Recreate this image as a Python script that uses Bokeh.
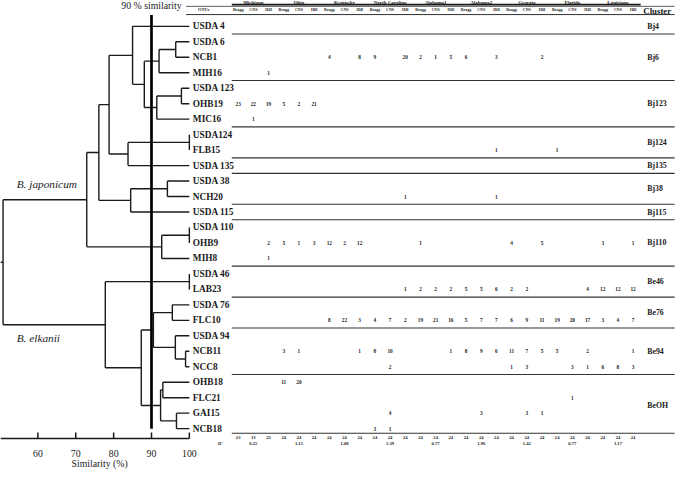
from bokeh.plotting import figure
from bokeh.models import Range1d, ColumnDataSource
from bokeh.core.properties import value
from bokeh.embed import file_html
from bokeh.resources import INLINE

_ = None
SERIF = value("Liberation Serif")

# ---------------- data ----------------
otus = ["USDA 4", "USDA 6", "NCB1", "MIH16", "USDA 123", "OHB19", "MIC16",
        "USDA124", "FLB15", "USDA 135", "USDA 38", "NCH20", "USDA 115",
        "USDA 110", "OHB9", "MIH8", "USDA 46", "LAB23", "USDA 76", "FLC10",
        "USDA 94", "NCB11", "NCC8", "OHB18", "FLC21", "GAI15", "NCB18"]

# (left child, right child, similarity %) ; ints refer to earlier merges
merges = [
    ("USDA 6", "NCB1", 96.4),      # 0
    (0, "MIH16", 92.0),            # 1
    ("USDA 123", "OHB19", 97.9),   # 2
    (2, "MIC16", 91.4),            # 3
    (1, 3, 88.1),                  # 4
    ("USDA 4", 4, 85.0),           # 5
    ("USDA124", "FLB15", 100.0),   # 6
    (6, "USDA 135", 83.8),         # 7
    (5, 7, 78.8),                  # 8
    ("USDA 38", "NCH20", 94.2),    # 9
    (9, "USDA 115", 84.5),         # 10
    (8, 10, 76.1),                 # 11
    ("USDA 110", "OHB9", 100.0),   # 12
    (12, "MIH8", 92.7),            # 13
    (11, 13, 72.9),                # 14
    ("USDA 46", "LAB23", 100.0),   # 15
    ("USDA 76", "FLC10", 95.5),    # 16
    ("NCB11", "NCC8", 99.0),       # 17
    ("USDA 94", 17, 96.3),         # 18
    (16, 18, 90.5),                # 19
    ("OHB18", "FLC21", 93.0),      # 20
    ("GAI15", "NCB18", 96.6),      # 21
    (20, 21, 92.4),                # 22
    (19, 22, 87.3),                # 23
    (15, 23, 77.8),                # 24
    (14, 24, 50.8),                # 25
]

sim_ticks = [60, 70, 80, 90, 100]
cut_level = 90

states = ["Michigan", "Ohio", "Kentucky", "North Carolina", "Alabama1",
          "Alabama2", "Georgia", "Florida", "Louisiana"]
cultivars = ["Bragg", "CNS", "Hill"]

NCB1  = [_, _, _,   _, _, _,    4, _, 8,    9, _, 20,   2, 1, 5,    6, _, 3,    _, _, 2,    _, _, _,    _, _, _]
MIH16 = [_, _, 1,   _, _, _,    _, _, _,    _, _, _,    _, _, _,    _, _, _,    _, _, _,    _, _, _,    _, _, _]
OHB19 = [23, 22, 19, 5, 2, 21,  _, _, _,    _, _, _,    _, _, _,    _, _, _,    _, _, _,    _, _, _,    _, _, _]
MIC16 = [_, 1, _,   _, _, _,    _, _, _,    _, _, _,    _, _, _,    _, _, _,    _, _, _,    _, _, _,    _, _, _]
FLB15 = [_, _, _,   _, _, _,    _, _, _,    _, _, _,    _, _, _,    _, _, 1,    _, _, _,    1, _, _,    _, _, _]
NCH20 = [_, _, _,   _, _, _,    _, _, _,    _, _, 1,    _, _, _,    _, _, 1,    _, _, _,    _, _, _,    _, _, _]
OHB9  = [_, _, 2,   5, 1, 3,    12, 2, 12,  _, _, _,    1, _, _,    _, _, _,    4, _, 5,    _, _, _,    3, _, 1]
MIH8  = [_, _, 1,   _, _, _,    _, _, _,    _, _, _,    _, _, _,    _, _, _,    _, _, _,    _, _, _,    _, _, _]
LAB23 = [_, _, _,   _, _, _,    _, _, _,    _, _, 1,    2, 2, 2,    5, 5, 6,    2, 2, _,    _, _, 4,    12, 12, 12]
FLC10 = [_, _, _,   _, _, _,    8, 22, 3,   4, 7, 2,    19, 21, 16, 5, 7, 7,    6, 9, 11,   19, 20, 17, 3, 4, 7]
NCB11 = [_, _, _,   3, 1, _,    _, _, 1,    8, 10, _,   _, _, 1,    8, 9, 6,    11, 7, 5,   5, _, 2,    _, _, 1]
NCC8  = [_, _, _,   _, _, _,    _, _, _,    _, 2, _,    _, _, _,    _, _, _,    1, 3, _,    _, 3, 1,    6, 8, 3]
OHB18 = [_, _, _,   11, 20, _,  _, _, _,    _, _, _,    _, _, _,    _, _, _,    _, _, _,    _, _, _,    _, _, _]
FLC21 = [_, _, _,   _, _, _,    _, _, _,    _, _, _,    _, _, _,    _, _, _,    _, _, _,    _, 1, _,    _, _, _]
GAI15 = [_, _, _,   _, _, _,    _, _, _,    _, 4, _,    _, _, _,    _, 3, _,    _, 3, 1,    _, _, _,    _, _, _]
NCB18 = [_, _, _,   _, _, _,    _, _, _,    3, 1, _,    _, _, _,    _, _, _,    _, _, _,    _, _, _,    _, _, _]

isolates = [23, 13, 23, 24, 24, 24, 24, 24, 24, 24, 24, 24, 24, 24, 24,
            24, 24, 24, 24, 24, 24, 24, 24, 24, 24, 24, 24]
h_index = ["0.25", "1.15", "1.08", "1.39", "0.77", "1.96", "1.42", "0.77", "1.17"]

clusters = ["Bj4", "Bj6", "Bj123", "Bj124", "Bj135", "Bj38", "Bj115", "Bj110",
            "Be46", "Be76", "Be94", "BeOH"]
cluster_first = ["USDA 4", "USDA 6", "USDA 123", "USDA124", "USDA 135", "USDA 38",
                 "USDA 115", "USDA 110", "USDA 46", "USDA 76", "USDA 94", "OHB18"]
cluster_last = ["USDA 4", "MIH16", "MIC16", "FLB15", "USDA 135", "NCH20",
                "USDA 115", "MIH8", "LAB23", "FLC10", "NCC8", "NCB18"]

species = ["B. japonicum", "B. elkanii"]
species_rows = [10.2, 20.15]

table_rows = [("NCB1", NCB1), ("MIH16", MIH16), ("OHB19", OHB19), ("MIC16", MIC16),
              ("FLB15", FLB15), ("NCH20", NCH20), ("OHB9", OHB9), ("MIH8", MIH8),
              ("LAB23", LAB23), ("FLC10", FLC10), ("NCB11", NCB11), ("NCC8", NCC8),
              ("OHB18", OHB18), ("FLC21", FLC21), ("GAI15", GAI15), ("NCB18", NCB18)]

# ---------------- figure ----------------
SIM_L, SIM_R = 50.12, 228.4
p = figure(width=675, height=469, output_backend="svg", toolbar_location=None,
           x_range=Range1d(SIM_L, SIM_R), y_range=Range1d(28.64, -1.669),
           x_axis_type=None, y_axis_type=None, min_border=0,
           background_fill_color="white", border_fill_color="white")
p.outline_line_color = None
p.grid.visible = False
p.extra_x_ranges = {"tab": Range1d(-14.646, 29.79)}

INK = "#1a1a1a"

# ---- dendrogram ----
pos = {}
def node(n):
    if isinstance(n, str):
        return 100.0, float(otus.index(n))
    return pos[n]

sx0, sy0, sx1, sy1 = [], [], [], []
for i, (a, b, s) in enumerate(merges):
    xa, ya = node(a)
    xb, yb = node(b)
    sx0 += [s, s, s]; sy0 += [ya, ya, yb]
    sx1 += [s, xa, xb]; sy1 += [yb, ya, yb]
    pos[i] = (s, (ya + yb) / 2)
rx, ry = pos[len(merges) - 1]
sx0.append(rx); sy0.append(ry); sx1.append(SIM_L); sy1.append(ry)
p.segment(sx0, sy0, sx1, sy1, line_color=INK, line_width=1.4)

# leaf labels
p.text(x=[100.0] * len(otus), y=list(range(len(otus))), text=otus,
       x_offset=3.5, text_font=SERIF, text_font_style="bold",
       text_font_size="9.3px", text_align="left", text_baseline="middle",
       text_color=INK)

# 90 % line
p.segment([cut_level], [-0.73], [cut_level], [26.0], line_color="black", line_width=2.7)
p.text(x=[cut_level], y=[-1.356], text=[f"{cut_level} % similarity"], text_font=SERIF,
       text_font_size="9.8px", text_align="center", text_baseline="middle",
       text_color=INK)

# species labels
p.text(x=[54.4, 54.4], y=species_rows, text=species, text_font=SERIF,
       text_font_style="italic", text_font_size="11.3px", text_align="left",
       text_baseline="middle", text_color=INK)

# similarity axis
AX_Y = 26.63
p.segment([SIM_L], [AX_Y], [100], [AX_Y], line_color=INK, line_width=1.5)
p.segment(sim_ticks, [AX_Y - 0.38] * len(sim_ticks), sim_ticks, [AX_Y] * len(sim_ticks),
          line_color=INK, line_width=1.5)
p.text(x=sim_ticks, y=[27.58] * len(sim_ticks), text=[str(t) for t in sim_ticks],
       text_font=SERIF, text_font_size="9.8px", text_align="center",
       text_baseline="middle", text_color=INK)
p.text(x=[76.3], y=[28.27], text=["Similarity (%)"], text_font=SERIF,
       text_font_size="9.8px", text_align="center", text_baseline="middle",
       text_color=INK)

# ---- table ----
T = "tab"
ncol = len(states) * len(cultivars)
cols = list(range(1, ncol + 1))

# header
p.text(x=[3 * k + 2 for k in range(len(states))], y=[-1.52] * len(states), text=states,
       x_range_name=T, text_font=SERIF, text_font_style="bold", text_font_size="5px",
       text_align="center", text_baseline="middle", text_color=INK)
p.segment([0.58], [-1.40], [27.5], [-1.40], x_range_name=T, line_color=INK, line_width=1.6)
p.segment([-2.43], [-1.29], [29.73], [-1.29], x_range_name=T, line_color=INK, line_width=0.7)
p.text(x=cols, y=[-1.075] * ncol, text=cultivars * len(states), x_range_name=T,
       text_font=SERIF, text_font_style="bold", text_font_size="4px",
       text_align="center", text_baseline="middle", text_color=INK)
p.text(x=[-1.27], y=[-1.075], text=["OTUs"], x_range_name=T, text_font=SERIF,
       text_font_style="bold", text_font_size="4.5px", text_align="center",
       text_baseline="middle", text_color=INK)
p.segment([-2.43], [-0.76], [29.73], [-0.76], x_range_name=T, line_color=INK, line_width=0.9)
p.text(x=[27.67], y=[-0.98], text=["Cluster"], x_range_name=T, text_font=SERIF,
       text_font_style="bold", text_font_size="8.8px", text_align="left",
       text_baseline="middle", text_color=INK)

# values
vx, vy, vt = [], [], []
for name, vals in table_rows:
    r = otus.index(name)
    for c, v in zip(cols, vals):
        if v is not None:
            vx.append(c); vy.append(r); vt.append(str(v))
p.text(x=vx, y=vy, text=vt, x_range_name=T, text_font=SERIF, text_font_style="bold",
       text_font_size="5.3px", text_align="center", text_baseline="middle",
       text_color=INK)

# cluster separators and labels
first_idx = [otus.index(n) for n in cluster_first]
last_idx = [otus.index(n) for n in cluster_last]
sep_y = [l + 0.5 for l in last_idx[:-1]] + [last_idx[-1] + 0.3]
p.segment([0.58] * len(sep_y), sep_y, [29.73] * len(sep_y), sep_y, x_range_name=T,
          line_color="#333333", line_width=1.1)
p.text(x=[27.93] * len(clusters), y=[(f + l) / 2 for f, l in zip(first_idx, last_idx)],
       text=clusters, x_range_name=T, text_font=SERIF, text_font_style="bold",
       text_font_size="7.8px", text_align="left", text_baseline="middle",
       text_color=INK)

# totals and diversity
p.text(x=cols, y=[26.55] * ncol, text=[str(v) for v in isolates], x_range_name=T,
       text_font=SERIF, text_font_style="bold", text_font_size="4.6px",
       text_align="center", text_baseline="middle", text_color=INK)
p.text(x=[3 * k + 2 for k in range(len(states))], y=[26.96] * len(states), text=h_index,
       x_range_name=T, text_font=SERIF, text_font_style="bold", text_font_size="4.6px",
       text_align="center", text_baseline="middle", text_color=INK)
p.text(x=[-0.18], y=[26.96], text=["H'"], x_range_name=T, text_font=SERIF,
       text_font_style="bold italic", text_font_size="4.6px", text_align="center",
       text_baseline="middle", text_color=INK)

open("out.html", "w").write(file_html(p, INLINE))
